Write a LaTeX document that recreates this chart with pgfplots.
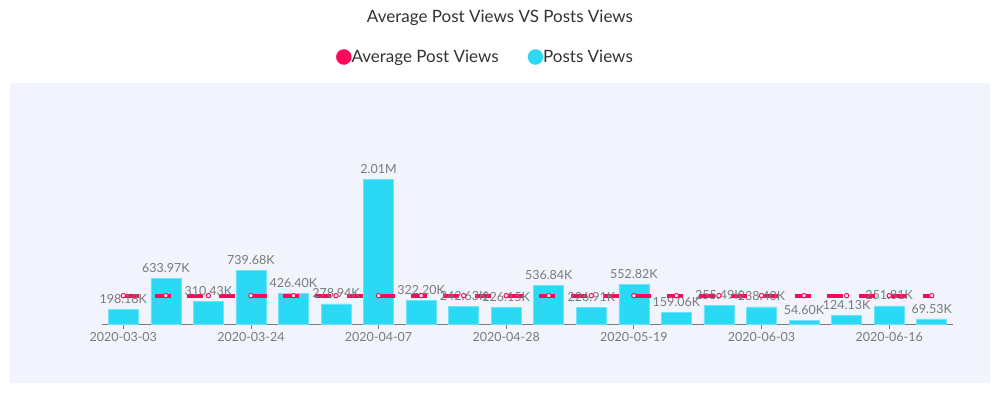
\documentclass[border=0pt]{standalone}
\usepackage{pgfplots}
\pgfplotsset{compat=1.18}
\usepackage{pgfplotstable}
\usepackage{fontspec}
\setmainfont{Lato}
\definecolor{barc}{RGB}{44,217,245}
\definecolor{linec}{RGB}{255,8,90}
\definecolor{bgc}{RGB}{241,244,252}
\definecolor{txtc}{RGB}{51,51,51}
\definecolor{lblc}{RGB}{122,122,122}
\pgfplotstableread{
x y lab
0 198180 198.18K
1 633970 633.97K
2 310430 310.43K
3 739680 739.68K
4 426400 426.40K
5 278940 278.94K
6 2010000 2.01M
7 322200 322.20K
8 242630 242.63K
9 226150 226.15K
10 536840 536.84K
11 226910 226.91K
12 552820 552.82K
13 159060 159.06K
14 255490 255.49K
15 238400 238.40K
16 54600 54.60K
17 124130 124.13K
18 251810 251.81K
19 69530 69.53K
}\views
\pgfplotstableread{
x y
0 392910
1 392910
2 392910
3 392910
4 392910
5 392910
6 392910
7 392910
8 392910
9 392910
10 392910
11 392910
12 392910
13 392910
14 392910
15 392910
16 392910
17 392910
18 392910
19 392910
}\avg
\begin{document}
\begin{tikzpicture}
\path[use as bounding box] (0,0) rectangle (1000bp,393bp);
\fill[bgc] (10bp,10bp) rectangle (990bp,310bp);
\node[font=\fontsize{17bp}{19bp}\selectfont, text=txtc] at (500bp,375.5bp) {Average Post Views VS Posts Views};
\begin{axis}[
  at={(102bp,69bp)}, anchor=south west,
  scale only axis, width=851bp, height=240bp,
  xmin=-0.5, xmax=19.5, ymin=0, ymax=3327000,
  axis x line=bottom, axis y line=none,
  x axis line style={-, draw=lblc, line width=0.8bp},
  xtick={0,3,6,9,12,15,18},
  xticklabels={2020-03-03,2020-03-24,2020-04-07,2020-04-28,2020-05-19,2020-06-03,2020-06-16},
  tick align=outside, major tick length=5bp,
  tick style={draw=lblc, line width=0.8bp},
  xticklabel style={font=\fontsize{12.5bp}{14bp}\selectfont, text=lblc, yshift=0bp},
  /pgf/number format/assume math mode=true,
  scaled y ticks=false, ytick=\empty,
  clip=false,
  legend style={at={(0.2714,1.1125)}, anchor=west, draw=none, fill=none,
    legend columns=2, font=\fontsize{17bp}{19bp}\selectfont, text=txtc,
    /tikz/every even column/.append style={column sep=29bp},
    nodes={inner sep=0pt}},
  legend cell align=left,
]
\addlegendimage{legend image code/.code={\fill[linec] (7.5bp,0) circle (7.5bp);}}
\addlegendentry{Average Post Views}
\addlegendimage{legend image code/.code={\fill[barc] (7.5bp,0) circle (7.5bp);}}
\addlegendentry{Posts Views}
\addplot[ybar, bar width=30bp, fill=barc, draw=barc!70!white, line width=0.6bp, forget plot,
  nodes near coords, point meta=explicit symbolic,
  every node near coord/.append style={font=\fontsize{12.5bp}{14bp}\selectfont, text=lblc, anchor=south, inner sep=5.5bp}]
  table[x=x, y=y, meta=lab] {\views};
\addplot[linec, line width=4bp, dash pattern=on 16bp off 16bp, forget plot,
  mark=*, mark size=2.2bp, mark options={solid, fill=white, draw=linec, line width=1bp}]
  table[x=x, y=y] {\avg};
\end{axis}
\end{tikzpicture}
\end{document}
